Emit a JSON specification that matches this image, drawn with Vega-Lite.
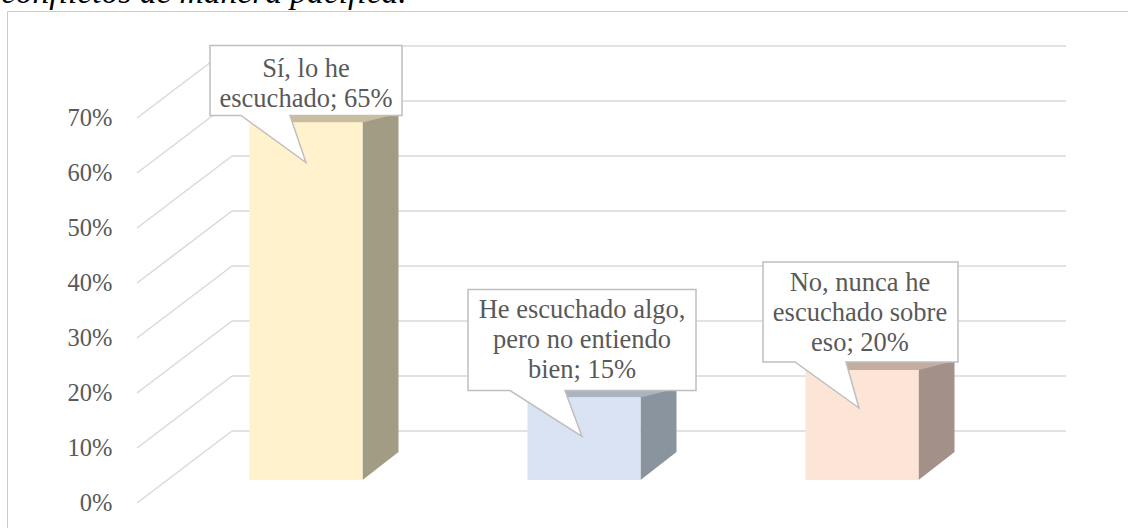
{
  "$schema": "https://vega.github.io/schema/vega-lite/v6.json",
  "width": 1121,
  "height": 517,
  "autosize": {"type": "none"},
  "padding": {"left": 7, "top": 11, "right": 0, "bottom": 0},
  "background": "#ffffff",
  "config": {
    "view": {"stroke": "#cccccc", "strokeWidth": 1},
    "font": "Liberation Serif"
  },
  "title": {
    "text": "conflictos de manera pacífica.",
    "anchor": "start",
    "frame": "group",
    "orient": "top",
    "offset": 0,
    "dx": -6,
    "dy": 25,
    "baseline": "alphabetic",
    "font": "Liberation Serif",
    "fontSize": 33.5,
    "fontStyle": "italic",
    "fontWeight": "normal",
    "color": "#000000"
  },
  "datasets": {
    "bars": [
      {"respuesta": "Sí, lo he escuchado", "porcentaje": 0.65, "etiqueta": "Sí, lo he\nescuchado; 65%"},
      {"respuesta": "He escuchado algo, pero no entiendo bien", "porcentaje": 0.15, "etiqueta": "He escuchado algo,\npero no entiendo\nbien; 15%"},
      {"respuesta": "No, nunca he escuchado sobre eso", "porcentaje": 0.20, "etiqueta": "No, nunca he\nescuchado sobre\neso; 20%"}
    ],
    "ticks": [
      {"t": 0}, {"t": 0.1}, {"t": 0.2}, {"t": 0.3}, {"t": 0.4}, {"t": 0.5}, {"t": 0.6}, {"t": 0.7}
    ]
  },
  "resolve": {"scale": {"fill": "independent"}},
  "layer": [
    {
      "data": {"name": "ticks"},
      "mark": {"type": "rule", "color": "#d9d9d9", "strokeWidth": 1.5},
      "encoding": {
        "x": {"datum": "Sí, lo he escuchado", "type": "nominal", "bandPosition": 0,
          "scale": {"domain": ["Sí, lo he escuchado", "He escuchado algo, pero no entiendo bien", "No, nunca he escuchado sobre eso"], "range": [225, 1059], "paddingInner": 0, "paddingOuter": 0},
          "axis": null},
        "x2": {"datum": "No, nunca he escuchado sobre eso", "bandPosition": 1},
        "y": {"field": "t", "type": "quantitative",
          "scale": {"domain": [0, 0.7], "range": [420, 35], "nice": false},
          "axis": {"values": [0, 0.1, 0.2, 0.3, 0.4, 0.5, 0.6, 0.7], "format": ".0%", "title": null, "domain": false, "ticks": false, "grid": false,
            "offset": -105, "labelPadding": 0, "labelOffset": 72, "labelFont": "Liberation Serif", "labelFontSize": 24.5, "labelColor": "#595959"}}
      }
    },
    {
      "data": {"name": "ticks"},
      "mark": {"type": "rule", "color": "#d9d9d9", "strokeWidth": 1.5, "xOffset": -95, "yOffset": 72},
      "encoding": {
        "x": {"datum": "Sí, lo he escuchado", "type": "nominal", "bandPosition": 0},
        "x2": {"datum": "Sí, lo he escuchado", "bandPosition": 0},
        "y": {"field": "t", "type": "quantitative"},
        "y2": {"field": "t"}
      }
    },
    {
      "data": {"name": "bars"},
      "mark": {"type": "bar", "width": 36, "xOffset": 9.5, "yOffset": 40, "y2Offset": 21, "opacity": 1},
      "encoding": {
        "x": {"field": "respuesta", "type": "nominal", "sort": null},
        "y": {"field": "porcentaje", "type": "quantitative"},
        "y2": {"datum": 0},
        "fill": {"field": "respuesta", "type": "nominal", "legend": null,
          "scale": {"domain": ["Sí, lo he escuchado", "He escuchado algo, pero no entiendo bien", "No, nunca he escuchado sobre eso"], "range": ["#a39c84", "#8a949e", "#a39189"]}}
      }
    },
    {
      "data": {"name": "bars"},
      "mark": {"type": "point", "shape": "M0,0L36,-28L0,-28Z", "size": 4, "filled": true, "strokeWidth": 0, "opacity": 1, "xOffset": -8.5, "yOffset": 49},
      "encoding": {
        "x": {"field": "respuesta", "type": "nominal", "sort": null},
        "y": {"datum": 0, "type": "quantitative"},
        "fill": {"field": "respuesta", "type": "nominal", "legend": null,
          "scale": {"domain": ["Sí, lo he escuchado", "He escuchado algo, pero no entiendo bien", "No, nunca he escuchado sobre eso"], "range": ["#a39c84", "#8a949e", "#a39189"]}}
      }
    },
    {
      "data": {"name": "bars"},
      "mark": {"type": "point", "shape": "M-56.5,0H56.5L92.5,-9H-20.5Z", "size": 4, "filled": true, "strokeWidth": 0, "opacity": 1, "xOffset": -65, "yOffset": 49},
      "encoding": {
        "x": {"field": "respuesta", "type": "nominal", "sort": null},
        "y": {"field": "porcentaje", "type": "quantitative"},
        "fill": {"field": "respuesta", "type": "nominal", "legend": null,
          "scale": {"domain": ["Sí, lo he escuchado", "He escuchado algo, pero no entiendo bien", "No, nunca he escuchado sobre eso"], "range": ["#c9bd9b", "#a9b4c0", "#c5aca1"]}}
      }
    },
    {
      "data": {"name": "bars"},
      "mark": {"type": "bar", "width": 113, "xOffset": -65, "yOffset": 49, "y2Offset": 49, "opacity": 1},
      "encoding": {
        "x": {"field": "respuesta", "type": "nominal", "sort": null},
        "y": {"field": "porcentaje", "type": "quantitative"},
        "y2": {"datum": 0},
        "fill": {"field": "respuesta", "type": "nominal", "legend": null,
          "scale": {"domain": ["Sí, lo he escuchado", "He escuchado algo, pero no entiendo bien", "No, nunca he escuchado sobre eso"], "range": ["#fff2cc", "#dae3f3", "#fce4d6"]}}
      }
    },
    {
      "data": {"name": "bars"},
      "mark": {"type": "point", "size": 4, "filled": true, "fill": "#ffffff", "stroke": "#bfbfbf", "strokeWidth": 1.5, "opacity": 1, "xOffset": -65, "yOffset": 49},
      "encoding": {
        "x": {"field": "respuesta", "type": "nominal", "sort": null},
        "y": {"field": "porcentaje", "type": "quantitative"},
        "shape": {"field": "respuesta", "type": "nominal", "legend": null,
          "scale": {"domain": ["Sí, lo he escuchado", "He escuchado algo, pero no entiendo bien", "No, nunca he escuchado sobre eso"],
            "range": ["M-96,-77H96V-7H-16L0,40L-65,-7H-96Z", "M-116,-108H112V-7H-19L-2,39L-74,-7H-116Z", "M-99,-108H96V-8H-16L-3,38L-67,-8H-99Z"]}}
      }
    },
    {
      "data": {"name": "bars"},
      "transform": [{"filter": "datum.respuesta == 'Sí, lo he escuchado'"}],
      "mark": {"type": "text", "font": "Liberation Serif", "fontSize": 26.5, "color": "#595959", "lineBreak": "\n", "lineHeight": 30, "baseline": "alphabetic", "align": "center", "xOffset": -65, "yOffset": 3},
      "encoding": {
        "x": {"field": "respuesta", "type": "nominal", "sort": null},
        "y": {"field": "porcentaje", "type": "quantitative"},
        "text": {"field": "etiqueta", "type": "nominal"}
      }
    },
    {
      "data": {"name": "bars"},
      "transform": [{"filter": "datum.respuesta != 'Sí, lo he escuchado'"}],
      "mark": {"type": "text", "font": "Liberation Serif", "fontSize": 26.5, "color": "#595959", "lineBreak": "\n", "lineHeight": 30, "baseline": "alphabetic", "align": "center", "xOffset": -67, "yOffset": -30.5},
      "encoding": {
        "x": {"field": "respuesta", "type": "nominal", "sort": null},
        "y": {"field": "porcentaje", "type": "quantitative"},
        "text": {"field": "etiqueta", "type": "nominal"}
      }
    }
  ]
}
